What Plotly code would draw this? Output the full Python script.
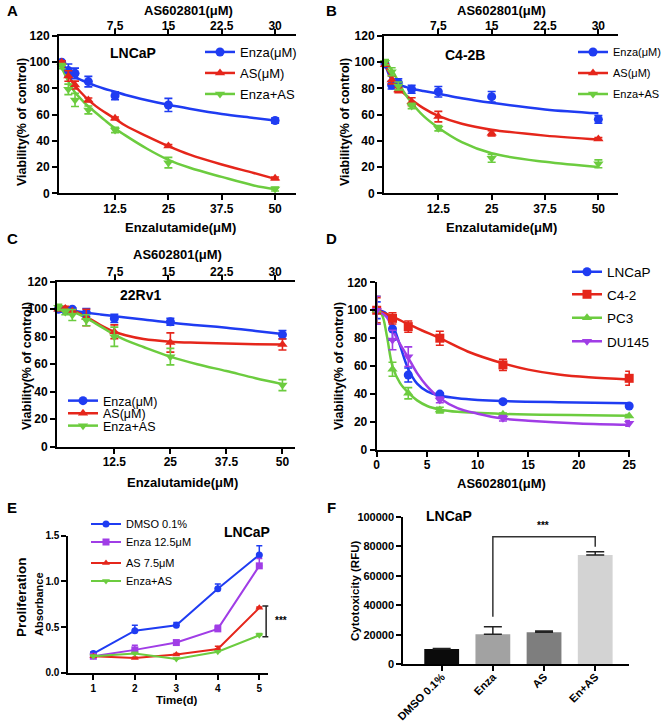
import plotly.graph_objects as go

W, H = 671, 724
FONT = "Liberation Sans, Arial, Helvetica, sans-serif"
BLUE = "#1f3cf2"
RED = "#e5261b"
GREEN = "#6ccc3f"
PURPLE = "#a03de6"

# ---------------- Panel A: LNCaP ----------------
a_dose = [0, 1.56, 3.125, 6.25, 12.5, 25, 50]
a_enza = [100, 93.6, 91.5, 85.2, 74.5, 67.4, 55.5]
a_enza_err = [1, 5, 4, 4, 3, 5, 2]
a_as = [100, 89.5, 82.6, 71.2, 57.2, 36.1, 11.4]
a_as_err = [1, 4, 3, 1.5, 1, 1, 1]
a_combo = [97, 79.3, 71.2, 63.6, 48.3, 23.4, 3.3]
a_combo_err = [2, 4, 5, 3, 2, 4, 1.5]
a_fit_x = [0, 1, 2, 3, 4.5, 6, 8, 10, 12.5, 15, 20, 25, 30, 37.5, 45, 50]
a_fit_enza = [100, 95, 91.5, 89, 86.5, 84.5, 82, 79.8, 77.5, 75, 71, 67.5, 64.5, 60.5, 57.5, 55.5]
a_fit_as = [100, 93, 87.5, 82.5, 77, 72, 66.5, 62, 57, 51.5, 43.5, 36, 29.5, 22, 15.5, 11]
a_fit_combo = [96, 89, 82.5, 77.5, 72, 67, 61.5, 56, 49.5, 44, 34, 25.5, 19.5, 12.5, 6, 3]

# ---------------- Panel B: C4-2B ----------------
b_dose = [0, 1.56, 3.125, 6.25, 12.5, 25, 50]
b_enza = [98.6, 82.6, 84.4, 79.3, 77.5, 73.7, 56.4]
b_enza_err = [2, 3, 3, 3, 4, 4, 3]
b_as = [98, 86.5, 78.8, 69.9, 58.5, 45.8, 41.5]
b_as_err = [1, 3, 2, 3, 4, 2, 1]
b_combo = [100, 92.8, 81.9, 66.6, 49.6, 26.7, 22.5]
b_combo_err = [2, 3, 3, 2, 2, 3, 3]
b_fit_x = [0, 1, 2, 3, 4.5, 6, 9, 12.5, 18, 25, 37.5, 50]
b_fit_enza = [99, 90, 85.5, 83, 81.5, 80, 78, 76, 72.5, 69, 64, 61]
b_fit_as = [98, 92, 87, 81, 76, 72, 65, 59, 53, 48.5, 44, 41]
b_fit_combo = [101, 97, 92, 86, 77, 70, 59, 50, 39, 30.5, 24, 20]

# ---------------- Panel C: 22Rv1 ----------------
c_dose = [0, 1.56, 3.125, 6.25, 12.5, 25, 50]
c_enza = [100, 99.4, 100, 97.5, 93.3, 90.9, 81.5]
c_enza_err = [2, 1.5, 1, 3, 3, 2.5, 3]
c_as = [100, 100.6, 98.5, 94, 83.6, 75.8, 74.3]
c_as_err = [1, 1.5, 1, 6, 5, 7, 4]
c_combo = [101.5, 98, 95.8, 92, 80, 65.5, 44.8]
c_combo_err = [2, 2, 4, 4, 7, 6, 4]
c_fit_x = [0, 3, 6.25, 9.4, 12.5, 15, 19, 25, 31, 37.5, 44, 50]
c_fit_enza = [100, 99, 97.5, 96.2, 95, 94, 92.5, 90.2, 88.4, 86.5, 84.2, 82]
c_fit_as = [100, 99.3, 94.5, 88.5, 83.6, 81, 78.3, 76.4, 75.6, 75, 74.6, 74.4]
c_fit_combo = [100, 98.5, 93.5, 87.5, 81.5, 77.5, 72.5, 65.5, 60, 55, 49.8, 45.5]

# ---------------- Panel D: AS602801 alone ----------------
d_dose = [0, 1.5625, 3.125, 6.25, 12.5, 25]
d_lncap = [100, 86.6, 53.7, 40, 34.6, 31.5]
d_lncap_err = [6, 8, 5, 1, 1, 1]
d_c42 = [100, 94.2, 88.3, 80, 60.9, 51.3]
d_c42_err = [9, 4, 4, 5, 4, 5]
d_pc3 = [100, 57.8, 40.6, 28.6, 25.5, 24.3]
d_pc3_err = [10, 5, 4, 2, 1, 1]
d_du145 = [100, 78.7, 66.8, 35.8, 22.7, 19.1]
d_du145_err = [10, 7, 7, 2, 2, 2]
d_fit_lncap_x = [0, 0.8, 1.56, 2.3, 3.125, 4, 5, 6.25, 8, 10, 12.5, 18, 25]
d_fit_lncap = [100, 98.5, 90, 75, 58, 47.5, 42, 39, 37, 35.8, 35, 34.2, 33.5]
d_fit_c42_x = [0, 1.56, 3.125, 4.5, 6.25, 9, 12.5, 15, 18, 21, 25]
d_fit_c42 = [100, 95.5, 90, 85.5, 80, 70.5, 62, 57.5, 54, 52, 50.5]
d_fit_pc3_x = [0, 0.5, 1, 1.56, 2.3, 3.125, 4, 5, 6.25, 8, 12.5, 25]
d_fit_pc3 = [100, 97, 82, 60, 48, 41, 35.5, 31.5, 29, 27.3, 25.8, 24.5]
d_fit_du_x = [0, 1, 1.56, 2.3, 3.125, 4, 5, 6.25, 8, 10, 12.5, 15, 20, 25]
d_fit_du = [100, 95, 86, 76, 66, 55, 45.5, 37, 30, 26, 22.5, 21, 19, 18]

# ---------------- Panel E: proliferation ----------------
e_days = [1, 2, 3, 4, 5]
e_dmso = [0.21, 0.46, 0.52, 0.92, 1.29]
e_dmso_err = [0.02, 0.06, 0.03, 0.05, 0.10]
e_enza = [0.18, 0.25, 0.33, 0.48, 1.17]
e_enza_err = [0.01, 0.05, 0.01, 0.04, 0.08]
e_as = [0.18, 0.16, 0.20, 0.26, 0.71]
e_as_err = [0.01, 0.01, 0.01, 0.03, 0.01]
e_combo = [0.18, 0.21, 0.15, 0.23, 0.41]
e_combo_err = [0.01, 0.01, 0.01, 0.01, 0.02]

# ---------------- Panel F: cytotoxicity ----------------
f_groups = ["DMSO 0.1%", "Enza", "AS", "En+AS"]
f_values = [10400, 20300, 21700, 74000]
f_err = [300, 5200, 900, 2300]
f_colors = ["#0b0b0b", "#a2a2a2", "#7e7e7e", "#d3d3d3"]

enza_ticks = [12.5, 25, 37.5, 50]
as_ticks = [7.5, 15, 22.5, 30]


def X(p):
    return p / W


def Y(p):
    return 1 - p / H


def tfont(size, bold=True):
    return dict(family=FONT, size=size, color="black", weight="bold" if bold else "normal")


def axis(domain, rng, size=12, **kw):
    d = dict(domain=domain, range=rng, showline=True, linecolor="black", linewidth=2,
             ticks="outside", ticklen=5, tickwidth=2, tickcolor="black", showgrid=False,
             zeroline=False, tickfont=tfont(size), fixedrange=True, automargin=False)
    d.update(kw)
    return d


fig = go.Figure()
legends = {}
leg_count = [0]


def new_legend(xline, yc, size):
    leg_count[0] += 1
    key = "legend" if leg_count[0] == 1 else "legend%d" % leg_count[0]
    legends[key] = dict(x=X(xline - 5), y=Y(yc), xanchor="left", yanchor="middle",
                        bgcolor="rgba(0,0,0,0)", borderwidth=0, font=tfont(size, False),
                        itemwidth=30, tracegroupgap=0)
    return key


def dose_panel(xa, ya, dose, series, fits, legpos, legsize, msize=9):
    # fitted curves first
    for fx, fy, color in fits:
        fig.add_trace(go.Scatter(x=fx, y=fy, mode="lines", line=dict(color=color, width=2.5, shape="spline"),
                                 xaxis=xa, yaxis=ya, showlegend=False, hoverinfo="skip", cliponaxis=False))
    for (name, vals, err, color, sym), (lx, ly) in zip(series, legpos):
        fig.add_trace(go.Scatter(x=dose, y=vals, mode="markers",
                                 marker=dict(symbol=sym, size=msize, color=color),
                                 error_y=dict(type="data", array=err, color=color, thickness=1.6, width=4),
                                 xaxis=xa, yaxis=ya, showlegend=False, cliponaxis=False))
        key = new_legend(lx, ly, legsize)
        fig.add_trace(go.Scatter(x=[None], y=[None], mode="lines+markers", name=name,
                                 line=dict(color=color, width=2.5), marker=dict(symbol=sym, size=msize, color=color),
                                 xaxis=xa, yaxis=ya, legend=key))


# A
dose_panel("x", "y", a_dose,
           [("Enza(μM)", a_enza, a_enza_err, BLUE, "circle"),
            ("AS(μM)", a_as, a_as_err, RED, "triangle-up"),
            ("Enza+AS", a_combo, a_combo_err, GREEN, "triangle-down")],
           [(a_fit_x, a_fit_enza, BLUE), (a_fit_x, a_fit_as, RED), (a_fit_x, a_fit_combo, GREEN)],
           [(205, 52), (205, 73), (205, 94)], 13)
fig.add_trace(go.Scatter(x=as_ticks, y=[0] * 4, xaxis="x2", yaxis="y", mode="markers",
                         marker=dict(opacity=0), showlegend=False, hoverinfo="skip"))
# B
dose_panel("x3", "y2", b_dose,
           [("Enza(μM)", b_enza, b_enza_err, BLUE, "circle"),
            ("AS(μM)", b_as, b_as_err, RED, "triangle-up"),
            ("Enza+AS", b_combo, b_combo_err, GREEN, "triangle-down")],
           [(b_fit_x, b_fit_enza, BLUE), (b_fit_x, b_fit_as, RED), (b_fit_x, b_fit_combo, GREEN)],
           [(578, 52), (578, 73), (578, 94)], 11)
fig.add_trace(go.Scatter(x=as_ticks, y=[0] * 4, xaxis="x4", yaxis="y2", mode="markers",
                         marker=dict(opacity=0), showlegend=False, hoverinfo="skip"))
# C
dose_panel("x5", "y3", c_dose,
           [("Enza(μM)", c_enza, c_enza_err, BLUE, "circle"),
            ("AS(μM)", c_as, c_as_err, RED, "triangle-up"),
            ("Enza+AS", c_combo, c_combo_err, GREEN, "triangle-down")],
           [(c_fit_x, c_fit_enza, BLUE), (c_fit_x, c_fit_as, RED), (c_fit_x, c_fit_combo, GREEN)],
           [(68, 401), (68, 413.5), (68, 426)], 12.5)
fig.add_trace(go.Scatter(x=as_ticks, y=[0] * 4, xaxis="x6", yaxis="y3", mode="markers",
                         marker=dict(opacity=0), showlegend=False, hoverinfo="skip"))
# D
dose_panel("x7", "y4", d_dose,
           [("LNCaP", d_lncap, d_lncap_err, BLUE, "circle"),
            ("C4-2", d_c42, d_c42_err, RED, "square"),
            ("PC3", d_pc3, d_pc3_err, GREEN, "triangle-up"),
            ("DU145", d_du145, d_du145_err, PURPLE, "triangle-down")],
           [(d_fit_lncap_x, d_fit_lncap, BLUE), (d_fit_c42_x, d_fit_c42, RED),
            (d_fit_pc3_x, d_fit_pc3, GREEN), (d_fit_du_x, d_fit_du, PURPLE)],
           [(572, 272), (572, 294.5), (572, 318), (572, 341.5)], 13.5)

# E
for name, vals, err, color, sym, (lx, ly) in [
        ("DMSO 0.1%", e_dmso, e_dmso_err, BLUE, "circle", (91, 524)),
        ("Enza 12.5μM", e_enza, e_enza_err, PURPLE, "square", (91, 542)),
        ("AS 7.5μM", e_as, e_as_err, RED, "triangle-up", (91, 563)),
        ("Enza+AS", e_combo, e_combo_err, GREEN, "triangle-down", (91, 581))]:
    key = new_legend(lx, ly, 11)
    fig.add_trace(go.Scatter(x=e_days, y=vals, mode="lines+markers", name=name,
                             line=dict(color=color, width=2), marker=dict(symbol=sym, size=7, color=color),
                             error_y=dict(type="data", symmetric=False, array=err, arrayminus=[0] * 5,
                                          color=color, thickness=1.5, width=3),
                             xaxis="x8", yaxis="y5", legend=key, cliponaxis=False))

# F
fig.add_trace(go.Bar(x=f_groups, y=f_values, marker=dict(color=f_colors, line=dict(width=0)), width=0.68,
                     error_y=dict(type="data", symmetric=False, array=f_err, arrayminus=[0] * 4,
                                  color="#222222", thickness=1.5, width=9),
                     xaxis="x9", yaxis="y6", showlegend=False))

# ---------------- layout ----------------
domA_x = [X(59), X(296)]
domA_y = [Y(193.3), Y(36)]
domB_x = [X(384), X(618)]
domC_x = [X(57), X(295)]
domC_y = [Y(446.7), Y(281.7)]
domD_x = [X(376.7), X(630)]
domD_y = [Y(450), Y(282.3)]
domE_x = [X(68.3), X(268.3)]
domE_y = [Y(672.7), Y(535.7)]
domF_x = [X(403.3), X(629)]
domF_y = [Y(664.3), Y(516.7)]

ytk = dict(tickvals=[0, 20, 40, 60, 80, 100, 120])
top = dict(side="top", ticklabelstandoff=-6)
bot = dict(ticklabelstandoff=-2)

layout = dict(
    width=W, height=H, autosize=False, margin=dict(l=0, r=0, t=0, b=0, autoexpand=False),
    paper_bgcolor="white", plot_bgcolor="white", showlegend=True,
    font=dict(family=FONT, color="black"),
    xaxis=axis(domA_x, [-0.63, 54.9], anchor="y", tickvals=enza_ticks, **bot),
    xaxis2=axis(domA_x, [-0.38, 32.94], anchor="y", overlaying="x", tickvals=as_ticks, **top),
    yaxis=axis(domA_y, [0, 120], anchor="x", **ytk),
    xaxis3=axis(domB_x, [-0.23, 54.6], anchor="y2", tickvals=enza_ticks, **bot),
    xaxis4=axis(domB_x, [-0.14, 32.76], anchor="y2", overlaying="x3", tickvals=as_ticks, **top),
    yaxis2=axis(domA_y, [0, 120], anchor="x3", **ytk),
    xaxis5=axis(domC_x, [-0.29, 52.8], anchor="y3", tickvals=enza_ticks, **bot),
    xaxis6=axis(domC_x, [-0.66, 32.8], anchor="y3", overlaying="x5", tickvals=as_ticks, **top),
    yaxis3=axis(domC_y, [0, 120], anchor="x5", **ytk),
    xaxis7=axis(domD_x, [0, 25.08], anchor="y4", tickvals=[0, 5, 10, 15, 20, 25], **bot),
    yaxis4=axis(domD_y, [0, 120], anchor="x7", **ytk),
    xaxis8=axis(domE_x, [0.396, 5.217], size=10, anchor="y5", tickvals=[1, 2, 3, 4, 5]),
    yaxis5=axis(domE_y, [0, 1.5], size=10, anchor="x8", tickvals=[0, 0.5, 1.0, 1.5],
                ticktext=["0.0", "0.5", "1.0", "1.5"]),
    xaxis9=axis(domF_x, [-0.75, 3.66], size=11, anchor="y6", type="category", tickangle=-45,
                ticklabelstandoff=-5),
    yaxis6=axis(domF_y, [0, 100000], size=11, anchor="x9",
                tickvals=[0, 20000, 40000, 60000, 80000, 100000], tickformat="d"),
)
layout.update(legends)


def txt(s, x, y, size, bold=True, angle=0):
    return dict(text=s, x=X(x), y=Y(y), xref="paper", yref="paper", showarrow=False,
                font=tfont(size, bold), textangle=angle, xanchor="center", yanchor="middle")


ann = [
    txt("A", 12, 11, 15), txt("B", 331, 11, 15), txt("C", 12, 239, 15),
    txt("D", 331, 239, 15), txt("E", 12, 507, 15), txt("F", 331, 507, 15),
    # A
    txt("AS602801(μM)", 188, 11, 13), txt("LNCaP", 133, 53, 14),
    txt("Enzalutamide(μM)", 180, 227, 13), txt("Viability(% of control)", 22, 122, 12.5, angle=-90),
    # B
    txt("AS602801(μM)", 502, 11, 13), txt("C4-2B", 465, 55, 14),
    txt("Enzalutamide(μM)", 502, 227, 13), txt("Viability(% of control)", 345, 122, 12.5, angle=-90),
    # C
    txt("AS602801(μM)", 177, 254, 13), txt("22Rv1", 140, 295, 14),
    txt("Enzalutamide(μM)", 182, 482, 13), txt("Viability(% of control)", 27, 366, 12.5, angle=-90),
    # D
    txt("AS602801(μM)", 502, 484, 13), txt("Viability(% of control)", 339, 366, 12.5, angle=-90),
    # E
    txt("Proliferation", 21, 597, 13.5, angle=-90), txt("Absorbance", 39, 604, 11, angle=-90),
    txt("Time(d)", 176, 700, 11.5), txt("LNCaP", 247, 532, 14), txt("***", 281, 620, 10),
    # F
    txt("LNCaP", 449, 516, 14), txt("***", 543, 525, 10),
    txt("Cytotoxicity (RFU)", 355, 591, 11.5, angle=-90),
]

shapes = [
    # E significance bracket
    dict(type="line", xref="x8", yref="y5", x0=5.165, x1=5.165, y0=0.394, y1=0.73, line=dict(color="#222", width=1.5)),
    dict(type="line", xref="x8", yref="y5", x0=5.075, x1=5.255, y0=0.73, y1=0.73, line=dict(color="#222", width=1.5)),
    dict(type="line", xref="x8", yref="y5", x0=5.075, x1=5.255, y0=0.394, y1=0.394, line=dict(color="#222", width=1.5)),
    # F bracket between Enza and En+AS
    dict(type="path", xref="x9", yref="y6", path="M 1,32250 L 1,86450 L 3,86450 L 3,79670",
         line=dict(color="#333", width=1.5)),
]

fig.update_layout(**layout)
fig.update_layout(annotations=ann, shapes=shapes)
fig.write_html("out.html", config={"displayModeBar": False},
               post_script="document.body.style.margin='0';document.body.style.padding='0';"
                           "document.documentElement.style.overflow='hidden';")
